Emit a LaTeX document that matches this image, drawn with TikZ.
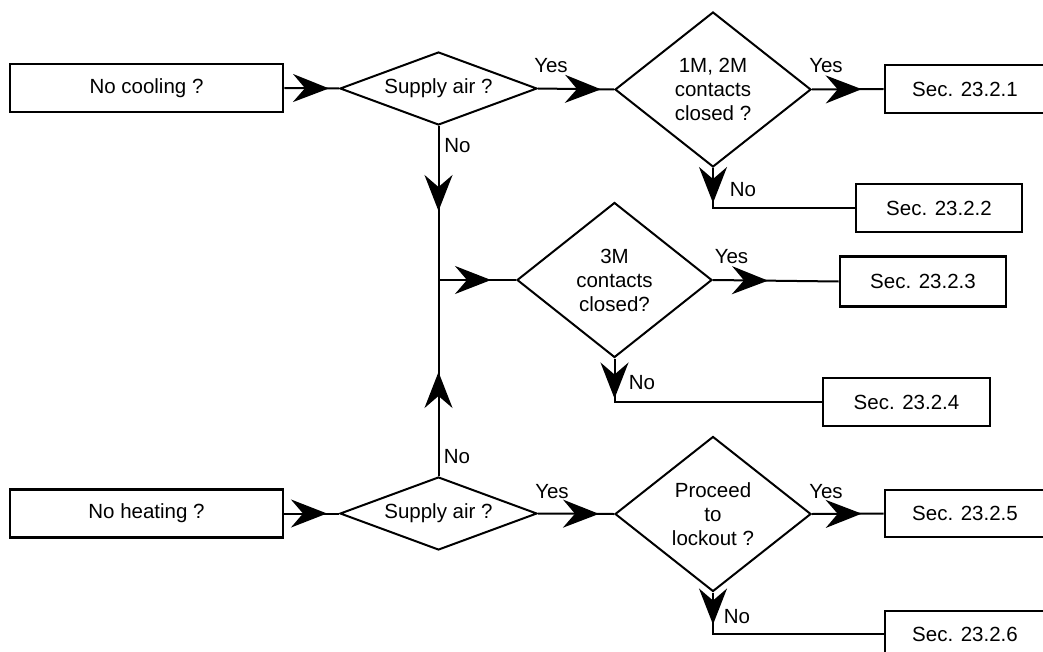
\documentclass[tikz,border=0pt]{standalone}
\usepackage{fontspec}
\setmainfont{Liberation Sans}
\usetikzlibrary{shapes.geometric,arrows.meta,decorations.markings}
\begin{document}
\begin{tikzpicture}[x=1pt,y=-1pt,
  every node/.style={font=\fontsize{20.5}{24}\selectfont},
  box/.style={draw,line width=2.6pt,rectangle,inner sep=0pt,minimum height=48pt},
  dia/.style={draw,line width=2pt,diamond,inner sep=0pt,align=center},
  conn/.style={line width=2pt},
  marr/.style={postaction={decorate,decoration={markings,mark=at position #1 with {\arrow{Stealth[length=36pt,width=28pt,inset=12pt]}}}}},
  lab/.style={anchor=base,inner sep=0pt}
]
\useasboundingbox (0,0) rectangle (1043,652);
\clip (0,0) rectangle (1043,652);

% top row
\node[box,minimum width=273pt] (cool) at (146.5,88) {No cooling ?};
\node[dia,aspect=2.7,minimum width=197pt,minimum height=73pt] (d1) at (438.5,88.5) {Supply air ?};
\node[dia,minimum width=196pt,minimum height=155pt] (d2) at (713,89.5) {1M, 2M\\contacts\\closed ?};
\node[box,minimum width=160pt] (s1) at (965,89) {Sec. 23.2.1};
\node[box,minimum width=166pt] (s2) at (939,208) {Sec. 23.2.2};

% middle
\coordinate (j) at (438.5,280);
\node[dia,minimum width=195pt,minimum height=155pt] (d3) at (614.5,280) {3M\\contacts\\closed?};
\node[box,minimum width=166pt,minimum height=50pt] (s3) at (923,281.5) {Sec. 23.2.3};
\node[box,minimum width=167pt] (s4) at (906.5,402) {Sec. 23.2.4};

% bottom row
\node[box,minimum width=273pt] (heat) at (146.5,513.5) {No heating ?};
\node[dia,aspect=2.7,minimum width=197pt,minimum height=73pt] (d4) at (438.5,513.5) {Supply air ?};
\node[dia,minimum width=196pt,minimum height=155pt] (d5) at (713,514) {Proceed\\to\\lockout ?};
\node[box,minimum width=160pt,minimum height=47pt] (s5) at (965,513.5) {Sec. 23.2.5};
\node[box,minimum width=160pt,minimum height=46pt] (s6) at (965,634) {Sec. 23.2.6};

% connectors
\draw[conn,marr=-10pt] (cool.east) -- (d1.west);
\draw[conn,marr=-13pt] (d1.east) -- (d2.west);
\draw[conn,marr=-22pt] (d2.east) -- (s1.west);
\draw[conn,marr=35pt] (d2.south) |- (s2.west);
\draw[conn,marr=85pt] (d1.south) -- (j);
\draw[conn,marr=104pt] (d4.north) -- (j);
\draw[conn,marr=-25pt] (j) -- (d3.west);
\draw[conn,marr=55pt] (d3.east) -- (s3.west);
\draw[conn,marr=40pt] (d3.south) |- (s4.west);
\draw[conn,marr=-12pt] (heat.east) -- (d4.west);
\draw[conn,marr=-15pt] (d4.east) -- (d5.west);
\draw[conn,marr=-22pt] (d5.east) -- (s5.west);
\draw[conn,marr=32pt] (d5.south) |- (s6.west);

% labels
\node[lab] (y1) at (551,73) {Yes};
\node[lab] (y2) at (826,73) {Yes};
\node[lab] (n1) at (457.5,153) {No};
\node[lab] (n2) at (743,197) {No};
\node[lab] (y3) at (731.5,263) {Yes};
\node[lab] (n3) at (642,389) {No};
\node[lab] (n4) at (457,463) {No};
\node[lab] (y4) at (552,498) {Yes};
\node[lab] (y5) at (826,498) {Yes};
\node[lab] (n5) at (737,623) {No};
\end{tikzpicture}
\end{document}
